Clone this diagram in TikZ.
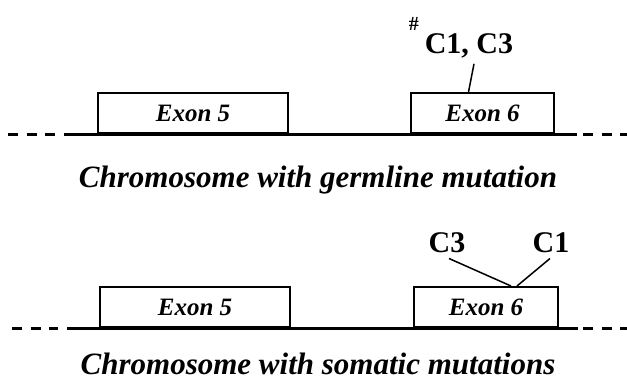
\documentclass[tikz,border=0pt]{standalone}
\usepackage{fontspec}
\setmainfont{Liberation Serif}
\usetikzlibrary{positioning, calc}

\begin{document}
\begin{tikzpicture}[x=1pt, y=-1pt]
	\tikzset{
		exon/.style={draw, line width=2pt, fill=white, minimum height=40pt, inner sep=0pt, font=\fontsize{25}{25}\selectfont\bfseries\itshape},
		caption/.style={inner sep=0pt, font=\fontsize{31}{31}\selectfont\bfseries\itshape},
		mutlabel/.style={inner sep=0pt, font=\fontsize{30}{30}\selectfont\bfseries},
		chrom/.style={line width=3pt},
		chromdash/.style={line width=3pt, dash pattern=on 10pt off 8.5pt},
		pointer/.style={line width=1.5pt}
	}
	\useasboundingbox (0,0) rectangle (627,383);

	% Germline chromosome
	\node[exon, minimum width=190pt, anchor=south west] (e5a) at (97,134) {Exon 5};
	\node[exon, minimum width=143pt, right=121pt of e5a] (e6a) {Exon 6};

	\coordinate (a0) at (8,134);
	\coordinate (a1) at (58,134);
	\coordinate (a2) at (64,134);
	\coordinate (a3) at (577,134);
	\coordinate (a4) at (583,134);
	\coordinate (a5) at (627,134);
	\draw[chromdash] (a0) -- (a1);
	\draw[chrom] (a2) -- (a3);
	\draw[chromdash] (a4) -- (a5);

	% Germline mutation label
	\node[mutlabel, anchor=base] (mutA) at (461,53) {\raisebox{23pt}{\fontsize{20}{20}\selectfont\#}\hspace{6pt}C1, C3};
	\draw[pointer] ($(mutA.south)+(13,6)$) -- ($(e6a.north)+(-14,0)$);

	\node[caption, anchor=base] (capA) at (318,187) {Chromosome with germline mutation};

	% Somatic chromosome
	\node[exon, minimum width=190pt, anchor=south west] (e5b) at (99,328) {Exon 5};
	\node[exon, minimum width=144pt, right=122pt of e5b] (e6b) {Exon 6};

	\coordinate (b0) at (12,328);
	\coordinate (b1) at (58,328);
	\coordinate (b2) at (67,328);
	\coordinate (b3) at (578,328);
	\coordinate (b4) at (583,328);
	\coordinate (b5) at (627,328);
	\draw[chromdash] (b0) -- (b1);
	\draw[chrom] (b2) -- (b3);
	\draw[chromdash] (b4) -- (b5);

	% Somatic mutation labels
	\node[mutlabel, anchor=base] (c3b) at (447,252) {C3};
	\node[mutlabel, anchor=base] (c1b) at (551,252) {C1};
	\draw[pointer] ($(c3b.south)+(2,6)$) -- ($(e6b.north)+(25,0)$);
	\draw[pointer] ($(c1b.south)+(-1,6)$) -- ($(e6b.north)+(31,0)$);

	\node[caption, anchor=base] (capB) at (318,374) {Chromosome with somatic mutations};
\end{tikzpicture}
\end{document}
